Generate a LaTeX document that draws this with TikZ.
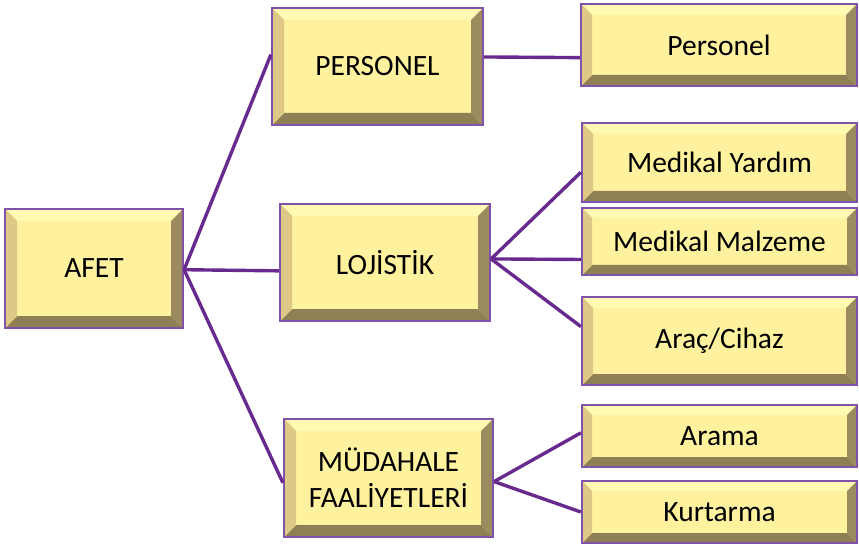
\documentclass[tikz,border=0pt]{standalone}
\usepackage{fontspec}
\setmainfont{Carlito}
\usetikzlibrary{calc}
\definecolor{face}{RGB}{255,242,159}
\definecolor{bevtop}{RGB}{255,249,178}
\definecolor{bevleft}{RGB}{221,200,133}
\definecolor{bevbottom}{RGB}{143,127,85}
\definecolor{bevright}{RGB}{156,139,94}
\definecolor{boxborder}{RGB}{128,82,170}
\definecolor{connector}{RGB}{104,42,142}
\def\bv{11pt}
\tikzset{
  bev/.code={\def\bv{#1}},
  bevelbox/.style={draw=boxborder, line width=2.2pt, fill=face, inner sep=0pt,
    align=center, text=black, font=\fontsize{29.5}{36}\selectfont,
    path picture={
      \coordinate (bnw) at (path picture bounding box.north west);
      \coordinate (bne) at (path picture bounding box.north east);
      \coordinate (bse) at (path picture bounding box.south east);
      \coordinate (bsw) at (path picture bounding box.south west);
      \fill[bevtop] (bnw) -- (bne) -- ($(bne)+(-\bv,-\bv)$) -- ($(bnw)+(\bv,-\bv)$) -- cycle;
      \fill[bevbottom] (bsw) -- (bse) -- ($(bse)+(-\bv,\bv)$) -- ($(bsw)+(\bv,\bv)$) -- cycle;
      \fill[bevleft] (bnw) -- (bsw) -- ($(bsw)+(\bv,\bv)$) -- ($(bnw)+(\bv,-\bv)$) -- cycle;
      \fill[bevright] (bne) -- (bse) -- ($(bse)+(-\bv,\bv)$) -- ($(bne)+(-\bv,-\bv)$) -- cycle;
    }},
  conn/.style={draw=connector, line width=3.4pt}
}
\begin{document}
\begin{tikzpicture}[x=1pt,y=-1pt]
\useasboundingbox (0,0) rectangle (859,545);
% level 1
\node[bevelbox, bev=12pt, minimum width=178pt, minimum height=119pt] (afet) at (94,268.5) {AFET};
% level 2
\node[bevelbox, bev=12pt, minimum width=211pt, minimum height=117pt] (pers) at (377.5,66.5) {PERSONEL};
\node[bevelbox, bev=12pt, minimum width=210pt, minimum height=117pt] (loj) at (385,262.5) {LOJİSTİK};
\node[bevelbox, bev=12pt, minimum width=209pt, minimum height=118pt] (mud) at (388.5,478) {MÜDAHALE\\FAALİYETLERİ};
% level 3
\node[bevelbox, bev=11pt, minimum width=276pt, minimum height=82pt] (p1) at (719,45) {Personel};
\node[bevelbox, bev=11pt, minimum width=275pt, minimum height=79pt] (my) at (719.5,162.5) {Medikal Yardım};
\node[bevelbox, bev=10pt, minimum width=275pt, minimum height=67pt] (mm) at (719.5,241.5) {Medikal Malzeme};
\node[bevelbox, bev=11pt, minimum width=275pt, minimum height=88pt] (ac) at (719.5,341) {Araç/Cihaz};
\node[bevelbox, bev=10pt, minimum width=275pt, minimum height=62pt] (ar) at (719.5,436) {Arama};
\node[bevelbox, bev=10pt, minimum width=275pt, minimum height=62pt] (ku) at (719.5,512) {Kurtarma};
% connectors
\coordinate (afetR) at ($(afet.south east)!0.49!(afet.north east)$);
\draw[conn] (afetR) -- ($(pers.south west)!0.6!(pers.north west)$);
\draw[conn] (afetR) -- ($(loj.south west)!0.43!(loj.north west)$);
\draw[conn] (afetR) -- ($(mud.south west)!0.46!(mud.north west)$);
\draw[conn] ($(pers.south east)!0.58!(pers.north east)$) -- ($(p1.south west)!0.35!(p1.north west)$);
\coordinate (lojR) at ($(loj.south east)!0.53!(loj.north east)$);
\draw[conn] (lojR) -- ($(my.south west)!0.38!(my.north west)$);
\draw[conn] (lojR) -- ($(mm.south west)!0.24!(mm.north west)$);
\draw[conn] (lojR) -- ($(ac.south west)!0.66!(ac.north west)$);
\coordinate (mudR) at ($(mud.south east)!0.47!(mud.north east)$);
\draw[conn] (mudR) -- ($(ar.south west)!0.55!(ar.north west)$);
\draw[conn] (mudR) -- ($(ku.south west)!0.5!(ku.north west)$);
\end{tikzpicture}
\end{document}
